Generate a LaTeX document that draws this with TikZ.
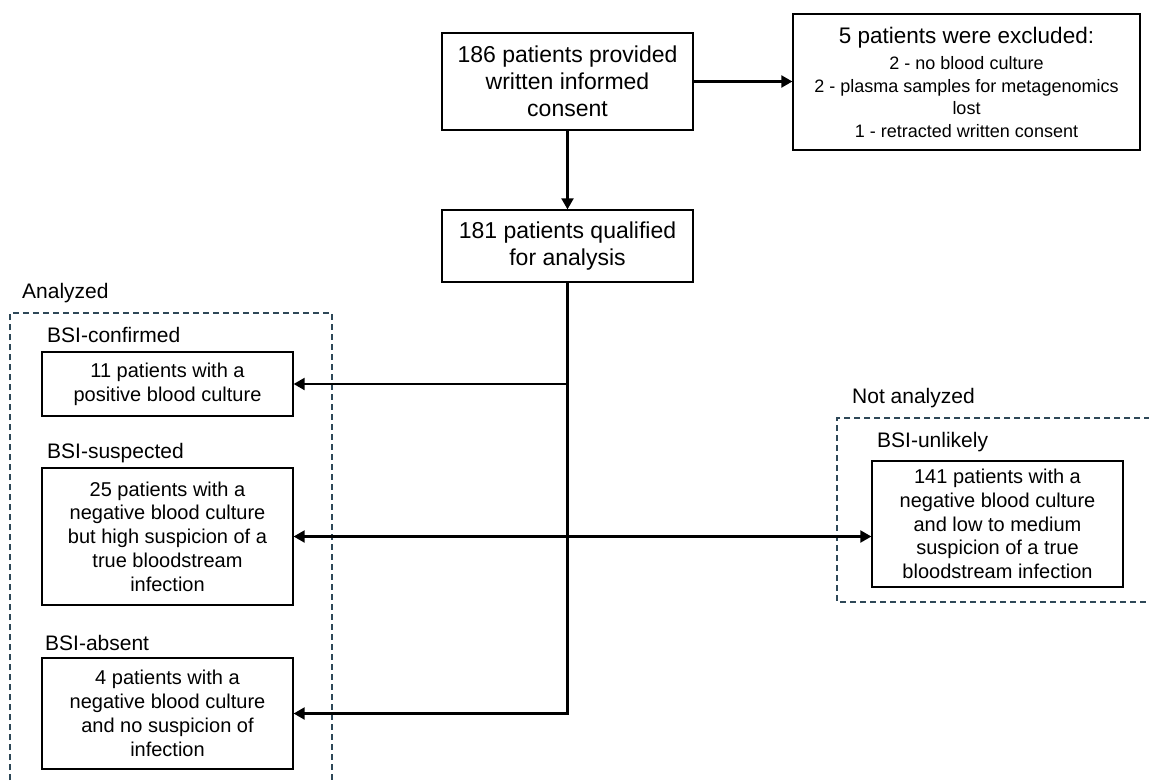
\documentclass[tikz,border=0pt]{standalone}
\usepackage{fontspec}
\setmainfont{Liberation Sans}
\usetikzlibrary{arrows.meta}
\definecolor{dashc}{HTML}{2E4858}
\tikzset{
  box/.style={draw=black, line width=1.3pt, rectangle, align=center, inner sep=0pt},
  big/.style={font=\fontsize{23}{27}\selectfont},
  mid/.style={font=\fontsize{20}{23.8}\selectfont},
  small/.style={font=\fontsize{18}{22.5}\selectfont},
  lab/.style={font=\fontsize{21}{25}\selectfont, anchor=west, inner sep=0pt},
  arr/.style={line width=2.2pt, -{Triangle[length=11pt,width=12pt]}},
  arrboth/.style={line width=2.2pt, {Triangle[length=11pt,width=12pt]}-{Triangle[length=11pt,width=12pt]}},
  line/.style={line width=2.2pt},
  grp/.style={draw=dashc, line width=1.3pt, dash pattern=on 6pt off 4pt}
}
\begin{document}
\begin{tikzpicture}[x=1pt,y=-1pt]
\clip (0,0) rectangle (1149,780);
\fill[white] (0,0) rectangle (1149,780);

% dashed groups
\draw[grp] (10,800) -- (10,313) -- (332,313) -- (332,800);
\draw[grp] (1170,418) -- (837,418) -- (837,602) -- (1170,602);
\node[lab] (lanalyzed) at (22,293) {Analyzed};
\node[lab] (lnot) at (852,398) {Not analyzed};

% top boxes
\node[box, big, minimum width=251pt, minimum height=97pt] (consent) at (567.5,81.5)
  {186 patients provided\\written informed\\consent};
\node[box, small, minimum width=347pt, minimum height=136pt] (excl) at (966.5,82)
  {{\fontsize{22.5}{24}\selectfont 5 patients were excluded:}\\[4pt]
   2 - no blood culture\\
   2 - plasma samples for metagenomics\\
   lost\\
   1 - retracted written consent};
\node[box, big, minimum width=251pt, minimum height=72pt] (qual) at (567.5,246)
  {181 patients qualified\\for analysis};

% category labels
\node[lab] (lconf) at (47,335) {BSI-confirmed};
\node[lab] (lsusp) at (47,453) {BSI-suspected};
\node[lab] (labs) at (45,643) {BSI-absent};
\node[lab] (lunl) at (877,442) {BSI-unlikely};

% category boxes
\node[box, mid, minimum width=251pt, minimum height=64pt] (conf) at (167.5,384)
  {11 patients with a\\positive blood culture};
\node[box, mid, minimum width=251pt, minimum height=137pt] (susp) at (167.5,536.5)
  {25 patients with a\\negative blood culture\\but high suspicion of a\\true bloodstream\\infection};
\node[box, mid, minimum width=251pt, minimum height=111pt] (abs) at (167.5,713.5)
  {4 patients with a\\negative blood culture\\and no suspicion of\\infection};
\node[box, mid, minimum width=251pt, minimum height=126pt] (unl) at (997.5,524)
  {141 patients with a\\negative blood culture\\and low to medium\\suspicion of a true\\bloodstream infection};

% connectors
\coordinate (tend) at (qual.south |- abs.east);
\draw[arr] (consent.east) -- (excl.west |- consent.east);
\draw[arr] (consent.south) -- (qual.north);
\draw[line] (qual.south) -- (tend);
\draw[arr] (qual.south |- conf.east) -- (conf.east);
\draw[arrboth] (susp.east) -- (unl.west |- susp.east);
\draw[arr] ([xshift=1.1pt]tend) -- (abs.east);
\end{tikzpicture}
\end{document}
